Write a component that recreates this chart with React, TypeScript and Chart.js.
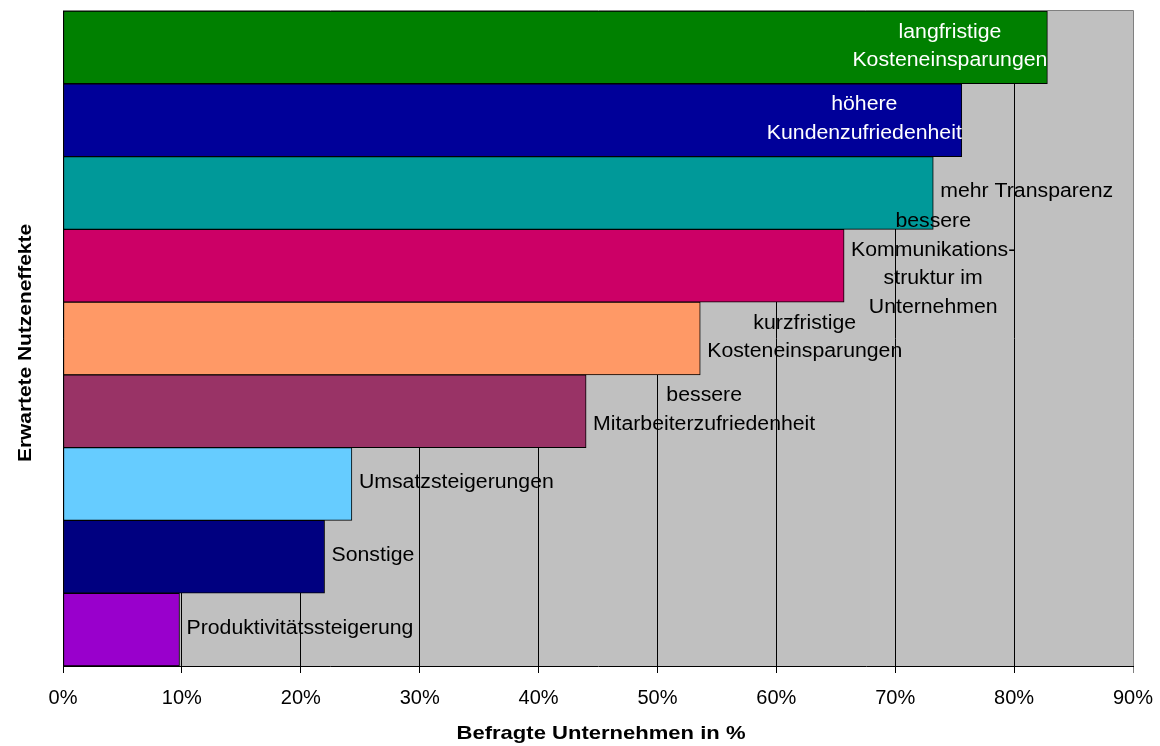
import React, { useEffect, useRef } from "react";
import { Chart, registerables } from "chart.js";

Chart.register(...registerables);

const categories = [
  "langfristige\nKosteneinsparungen",
  "höhere\nKundenzufriedenheit",
  "mehr Transparenz",
  "bessere\nKommunikations-\nstruktur im\nUnternehmen",
  "kurzfristige\nKosteneinsparungen",
  "bessere\nMitarbeiterzufriedenheit",
  "Umsatzsteigerungen",
  "Sonstige",
  "Produktivitätssteigerung",
];
const values = [82.8, 75.6, 73.2, 65.7, 53.6, 44.0, 24.3, 22.0, 9.8];
const barColors = [
  "#008000",
  "#000099",
  "#009999",
  "#CC0066",
  "#FF9966",
  "#993366",
  "#66CCFF",
  "#000080",
  "#9900CC",
];
const xTicks = [0, 10, 20, 30, 40, 50, 60, 70, 80, 90];
const xTitle = "Befragte Unternehmen in %";
const yTitle = "Erwartete Nutzeneffekte";

const FONT = '"Liberation Sans", Arial, sans-serif';

function drawScaled(ctx: CanvasRenderingContext2D, text: string, x: number, y: number, sx: number) {
  ctx.save();
  ctx.translate(x, y);
  ctx.scale(sx, 1);
  ctx.fillText(text, 0, 0);
  ctx.restore();
}

const decorPlugin = {
  id: "decor",
  beforeDraw(chart: any) {
    const { ctx, chartArea } = chart;
    ctx.save();
    ctx.fillStyle = "#C0C0C0";
    ctx.fillRect(chartArea.left, chartArea.top, chartArea.right - chartArea.left, chartArea.bottom - chartArea.top);
    ctx.restore();
  },
  afterDatasetsDraw(chart: any) {
    const { ctx, chartArea } = chart;
    const meta = chart.getDatasetMeta(0);
    const sx = 1.09;
    const lineH = 28.5;
    const gap = 7;
    ctx.save();
    ctx.font = `19.5px ${FONT}`;
    ctx.textAlign = "center";
    ctx.textBaseline = "middle";
    meta.data.forEach((bar: any, i: number) => {
      const lines = categories[i].split("\n");
      const w = Math.max(...lines.map((l) => ctx.measureText(l).width)) * sx;
      const end = bar.x;
      let cx: number;
      let color: string;
      if (end + gap + w > chartArea.right) {
        cx = end - w / 2;
        color = "#FFFFFF";
      } else {
        cx = end + gap + w / 2;
        color = "#000000";
      }
      ctx.fillStyle = color;
      const y0 = bar.y - 1 - ((lines.length - 1) * lineH) / 2;
      lines.forEach((l, k) => drawScaled(ctx, l, cx, y0 + k * lineH, sx));
    });
    ctx.restore();
  },
  afterDraw(chart: any) {
    const { ctx, chartArea } = chart;
    ctx.save();
    ctx.strokeStyle = "#808080";
    ctx.lineWidth = 1;
    ctx.beginPath();
    ctx.moveTo(chartArea.left, chartArea.top - 0.5);
    ctx.lineTo(chartArea.right + 0.5, chartArea.top - 0.5);
    ctx.lineTo(chartArea.right + 0.5, chartArea.bottom);
    ctx.stroke();
    // axis titles
    ctx.fillStyle = "#000";
    ctx.textAlign = "center";
    ctx.textBaseline = "middle";
    ctx.font = `bold 19px ${FONT}`;
    drawScaled(ctx, xTitle, (chartArea.left + chartArea.right) / 2 + 3, 734, 1.16);
    ctx.save();
    ctx.translate(26, 343);
    ctx.rotate(-Math.PI / 2);
    drawScaled(ctx, yTitle, 0, 0, 1.1);
    ctx.restore();
    ctx.restore();
  },
};

export default function App() {
  const ref = useRef<HTMLCanvasElement>(null);
  useEffect(() => {
    if (!ref.current) return;
    const chart = new Chart(ref.current, {
      type: "bar",
      data: {
        labels: categories,
        datasets: [
          {
            data: values,
            backgroundColor: barColors,
            borderColor: "#000",
            borderWidth: 1,
            borderSkipped: false,
            categoryPercentage: 1,
            barPercentage: 1,
          },
        ],
      },
      options: {
        indexAxis: "y",
        responsive: false,
        animation: false,
        layout: { padding: { left: 63, right: 27, top: 11, bottom: 0 } },
        plugins: { legend: { display: false }, tooltip: { enabled: false }, title: { display: false } },
        scales: {
          x: {
            min: 0,
            max: 90,
            afterBuildTicks: (scale: any) => {
              scale.ticks = xTicks.map((v) => ({ value: v }));
            },
            afterFit: (scale: any) => {
              scale.height = 80;
              scale.paddingLeft = 0;
              scale.paddingRight = 0;
            },
            ticks: {
              color: "#000",
              font: { family: FONT, size: 20 },
              padding: 13,
              maxRotation: 0,
              callback: (v: any) => `${v}%`,
            },
            grid: {
              color: (c: any) => (c.index === xTicks.length - 1 ? "#808080" : "#000"),
              lineWidth: 1,
              tickLength: 7,
              drawOnChartArea: true,
            },
            border: { display: true, color: "#000", width: 1 },
          },
          y: { display: false },
        },
      },
      plugins: [decorPlugin],
    });
    return () => chart.destroy();
  }, []);
  return (
    <div style={{ position: "fixed", left: 0, top: 0, width: 1160, height: 746, background: "#fff" }}>
      <canvas ref={ref} width={1160} height={746} style={{ width: 1160, height: 746, display: "block" }} />
    </div>
  );
}
